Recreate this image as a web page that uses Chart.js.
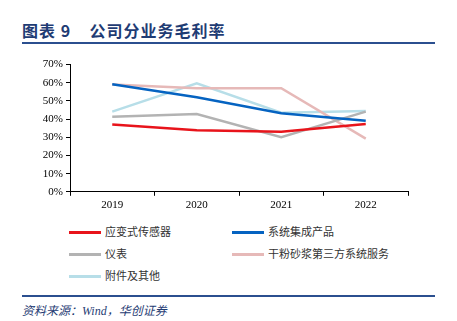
<!DOCTYPE html>
<html>
<head>
<meta charset="utf-8">
<script src="https://cdn.jsdelivr.net/npm/chart.js@4/dist/chart.umd.min.js"></script>
<style>
  body { margin: 0; width: 457px; height: 321px; background: #fff; position: relative; overflow: hidden; font-family: "Noto Sans CJK SC", sans-serif; }
  #titulo { position: absolute; left: 22px; top: 18px; font-size: 16px; font-weight: bold; color: #1F3C74; letter-spacing: 1px; }
  #linea-top { position: absolute; left: 22px; top: 42px; width: 413px; height: 2px; background: #2B4F8F; }
  #wrap { position: absolute; left: 20px; top: 55px; width: 392px; height: 160px; }
  #leyenda { position: absolute; left: 69px; top: 223px; width: 380px; }
  .item { position: absolute; font-size: 11px; color: #333; white-space: nowrap; }
  .item span { display: inline-block; width: 32px; height: 3px; vertical-align: middle; margin-right: 4px; position: relative; top: -1px; }
  #linea-bot { position: absolute; left: 22px; top: 295px; width: 413px; height: 2px; background: #2B4F8F; }
  #fuente { position: absolute; left: 22px; top: 301px; font-size: 12px; font-style: italic; color: #1F3C74; font-family: "Liberation Serif", "Noto Sans CJK SC", serif; }
</style>
</head>
<body>
<div id="titulo">图表 9&nbsp;&nbsp;&nbsp;&nbsp;公司分业务毛利率</div>
<div id="linea-top"></div>
<div id="wrap"><canvas id="c-margen"></canvas></div>
<div id="leyenda"></div>
<div id="linea-bot"></div>
<div id="fuente">资料来源：Wind，华创证券</div>
<script>
// Datos
const anios = ['2019', '2020', '2021', '2022'];
const series = ['应变式传感器', '系统集成产品', '仪表', '干粉砂浆第三方系统服务', '附件及其他'];
const sensores = [37.1, 33.9, 33.1, 37.3];
const sistemas = [59.2, 52.0, 43.2, 39.1];
const instrumentos = [41.3, 42.8, 30.1, 44.1];
const mortero = [59.1, 57.0, 57.0, 29.3];
const accesorios = [44.1, 59.7, 43.5, 44.5];
const colores = ['#E8141B', '#0563C1', '#B3B3B3', '#E6B9B8', '#B7DEE8'];
const yTicks = [0, 10, 20, 30, 40, 50, 60, 70];

const valores = [sensores, sistemas, instrumentos, mortero, accesorios];

// Leyenda en dos columnas
const leyenda = document.getElementById('leyenda');
series.forEach((nombre, i) => {
    const d = document.createElement('div');
    d.className = 'item';
    d.style.left = (i % 2 === 0 ? 0 : 163) + 'px';
    d.style.top = (Math.floor(i / 2) * 22) + 'px';
    d.innerHTML = `<span style="background:${colores[i]}"></span>${nombre}`;
    leyenda.appendChild(d);
});

const ejeNegro = '#000';
new Chart(document.getElementById('c-margen'), {
    type: 'line',
    data: {
        labels: anios,
        datasets: series.map((nombre, i) => ({
            label: nombre,
            data: valores[i],
            borderColor: colores[i],
            borderWidth: 2.5,
            pointRadius: 0,
            tension: 0,
            fill: false
        }))
    },
    options: {
        responsive: true,
        maintainAspectRatio: false,
        animation: false,
        layout: { padding: { top: 8, right: 4, bottom: 0, left: 0 } },
        plugins: { legend: { display: false }, tooltip: { enabled: false } },
        scales: {
            x: {
                offset: true,
                grid: { display: true, offset: true, drawOnChartArea: false, drawTicks: true, tickLength: 4, color: ejeNegro },
                border: { display: true, color: ejeNegro, width: 1 },
                ticks: { color: '#000', font: { family: 'Liberation Serif', size: 11 }, padding: 3 }
            },
            y: {
                min: 0,
                max: 70,
                afterFit: (scale) => { scale.width = 50; },
                afterBuildTicks: (scale) => { scale.ticks = yTicks.map(v => ({ value: v })); },
                grid: { display: true, drawOnChartArea: false, drawTicks: true, tickLength: 4, color: ejeNegro },
                border: { display: true, color: ejeNegro, width: 1 },
                ticks: { color: '#000', font: { family: 'Liberation Serif', size: 11 }, padding: 3, callback: v => v + '%' }
            }
        }
    }
});
</script>
</body>
</html>
